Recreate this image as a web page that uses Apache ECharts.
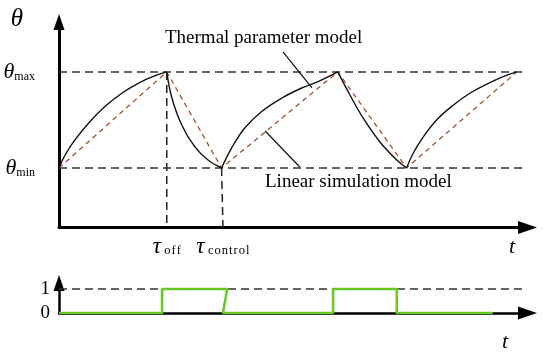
<!DOCTYPE html>
<html><head><meta charset="utf-8">
<script src="https://cdn.jsdelivr.net/npm/echarts@6/dist/echarts.min.js"></script>
<style>html,body{margin:0;padding:0;background:#fff}#c{width:550px;height:356px}</style>
</head><body><div id="c"></div>
<script>
// ---- data ----
const thetaMin = 20, thetaMax = 30;
const yLevels = [thetaMin, thetaMax];
const yLevelLabels = ['min', 'max'];
const heat1 = [[0,20],[0.13,21.35],[0.34,22.92],[0.63,24.66],[0.98,26.39],[1.34,27.78],[1.69,28.82],[2.05,29.61],[2.30,30]];
const cool1 = [[2.30,30],[2.41,27.29],[2.62,24.48],[2.90,22.19],[3.18,20.83],[3.47,20]];
const heat2 = [[3.47,20],[3.68,22.05],[3.96,24.14],[4.32,25.86],[4.75,27.26],[5.17,28.30],[5.53,28.99],[5.95,30]];
const cool2 = [[5.95,30],[6.21,27.6],[6.49,25.21],[6.85,22.71],[7.21,20.83],[7.42,20]];
const heat3 = [[7.42,20],[7.56,21.53],[7.78,23.26],[8.06,25.0],[8.42,26.56],[8.77,27.78],[9.13,28.72],[9.48,29.51],[9.77,30]];
const linearModel = [[0,20],[2.30,30],[3.47,20],[5.95,30],[7.42,20],[9.77,30]];
const tauTimes = [2.3, 3.5];
const tauLabels = ['o\u200Af\u200Af', 'c\u200Ao\u200An\u200At\u200Ar\u200Ao\u200Al'];
const tauOffLine = [[2.3,30],[2.3,13.8]];
const tauCtrlLine = [[3.47,20],[3.5,13.8]];
const maxLine = [[0,30],[9.9,30]];
const minLine = [[0,20],[9.9,20]];
const thermalPointer = [[4.78,32.08],[5.40,28.33]];
const linearPointer = [[4.40,23.85],[5.14,20.1]];
const switchLevels = [0, 1];
const switchSignal = [[0,0],[2.2,0],[2.2,1],[3.59,1],[3.5,0],[5.85,0],[5.85,1],[7.21,1],[7.21,0],[9.26,0]];
const oneLine = [[0,1],[9.9,1]];
const annotations = ['Thermal parameter model', 'Linear simulation model'];

// ---- chart ----
const FONT = '"Liberation Serif","Times New Roman",serif';
const chart = echarts.init(document.getElementById('c'), null, {renderer: 'canvas'});
const dashed = (data, xi, yi, color, w, type) => ({
  type: 'line', xAxisIndex: xi, yAxisIndex: yi, data, symbol: 'none', silent: true,
  lineStyle: {color, width: w, type}, z: 2
});
const curve = (data) => ({
  type: 'line', xAxisIndex: 0, yAxisIndex: 0, data, symbol: 'none', smooth: 0.4,
  lineStyle: {color: '#111', width: 1.4}, z: 4
});
chart.setOption({
  animation: false,
  backgroundColor: '#fff',
  grid: [
    {left: 59, top: 22, width: 468.5, height: 205.5, outerBoundsMode: 'none'},
    {left: 59, top: 283, width: 468.5, height: 30, outerBoundsMode: 'none'}
  ],
  xAxis: [
    {type: 'value', gridIndex: 0, min: 0, max: 10, splitLine: {show: false},
     axisTick: {show: false},
     axisLine: {show: true, symbol: ['none', 'triangle'], symbolSize: [13, 19], lineStyle: {color: '#000', width: 3}},
     axisLabel: {show: true, customValues: tauTimes, margin: 8,
       formatter: (v) => '{a|τ} {b|' + tauLabels[tauTimes.indexOf(v)] + '}',
       rich: {a: {fontFamily: FONT, fontStyle: 'italic', fontSize: 23, color: '#000', lineHeight: 22},
              b: {fontFamily: FONT, fontSize: 12.5, color: '#000', verticalAlign: 'bottom', lineHeight: 12}}}},
    {type: 'value', gridIndex: 1, min: 0, max: 10, splitLine: {show: false},
     axisTick: {show: false}, axisLabel: {show: false},
     axisLine: {show: true, symbol: ['none', 'triangle'], symbolSize: [13, 19], lineStyle: {color: '#000', width: 2.5}}}
  ],
  yAxis: [
    {type: 'value', gridIndex: 0, min: 13.8, max: 35.2, splitLine: {show: false},
     axisTick: {show: false},
     axisLine: {show: true, symbol: ['none', 'triangle'], symbolSize: [11, 16], lineStyle: {color: '#000', width: 3}},
     axisLabel: {show: true, customValues: yLevels, margin: 24,
       formatter: (v) => '{a|θ}{b|' + yLevelLabels[yLevels.indexOf(v)] + '}',
       rich: {a: {fontFamily: FONT, fontStyle: 'italic', fontSize: 22, color: '#000', lineHeight: 22},
              b: {fontFamily: FONT, fontSize: 12, color: '#000', verticalAlign: 'bottom', lineHeight: 10}}}},
    {type: 'value', gridIndex: 1, min: 0, max: 1.25, splitLine: {show: false},
     axisTick: {show: false},
     axisLine: {show: true, symbol: ['none', 'triangle'], symbolSize: [11, 16], lineStyle: {color: '#000', width: 2.5}},
     axisLabel: {show: true, customValues: switchLevels, margin: 9,
       fontFamily: FONT, fontSize: 19, color: '#000'}}
  ],
  series: [
    dashed(maxLine, 0, 0, '#333', 1.5, [8, 5]),
    dashed(minLine, 0, 0, '#333', 1.5, [8, 5]),
    dashed(tauOffLine, 0, 0, '#222', 1.5, [8, 5]),
    dashed(tauCtrlLine, 0, 0, '#222', 1.5, [8, 5]),
    dashed(linearModel, 0, 0, '#a0522d', 1.3, [5, 4]),
    curve(heat1), curve(cool1), curve(heat2), curve(cool2), curve(heat3),
    dashed(thermalPointer, 0, 0, '#111', 1.2, 'solid'),
    dashed(linearPointer, 0, 0, '#111', 1.2, 'solid'),
    dashed(oneLine, 1, 1, '#333', 1.5, [8, 5]),
    {type: 'line', xAxisIndex: 1, yAxisIndex: 1, data: switchSignal, symbol: 'none',
     lineStyle: {color: '#66cc22', width: 2.6}, z: 5}
  ],
  graphic: [
    {type: 'text', x: 17, y: 19, style: {text: 'θ', font: 'italic 25px ' + FONT, fill: '#000', align: 'center', verticalAlign: 'middle'}},
    {type: 'text', x: 165, y: 38, style: {text: annotations[0], font: '19px ' + FONT, fill: '#000', verticalAlign: 'middle'}},
    {type: 'text', x: 265, y: 182, style: {text: annotations[1], font: '19px ' + FONT, fill: '#000', verticalAlign: 'middle'}},
    {type: 'text', x: 512, y: 247, style: {text: 't', font: 'italic 22px ' + FONT, fill: '#000', align: 'center', verticalAlign: 'middle'}},
    {type: 'text', x: 505, y: 342, style: {text: 't', font: 'italic 22px ' + FONT, fill: '#000', align: 'center', verticalAlign: 'middle'}}
  ]
});
</script>
</body></html>
